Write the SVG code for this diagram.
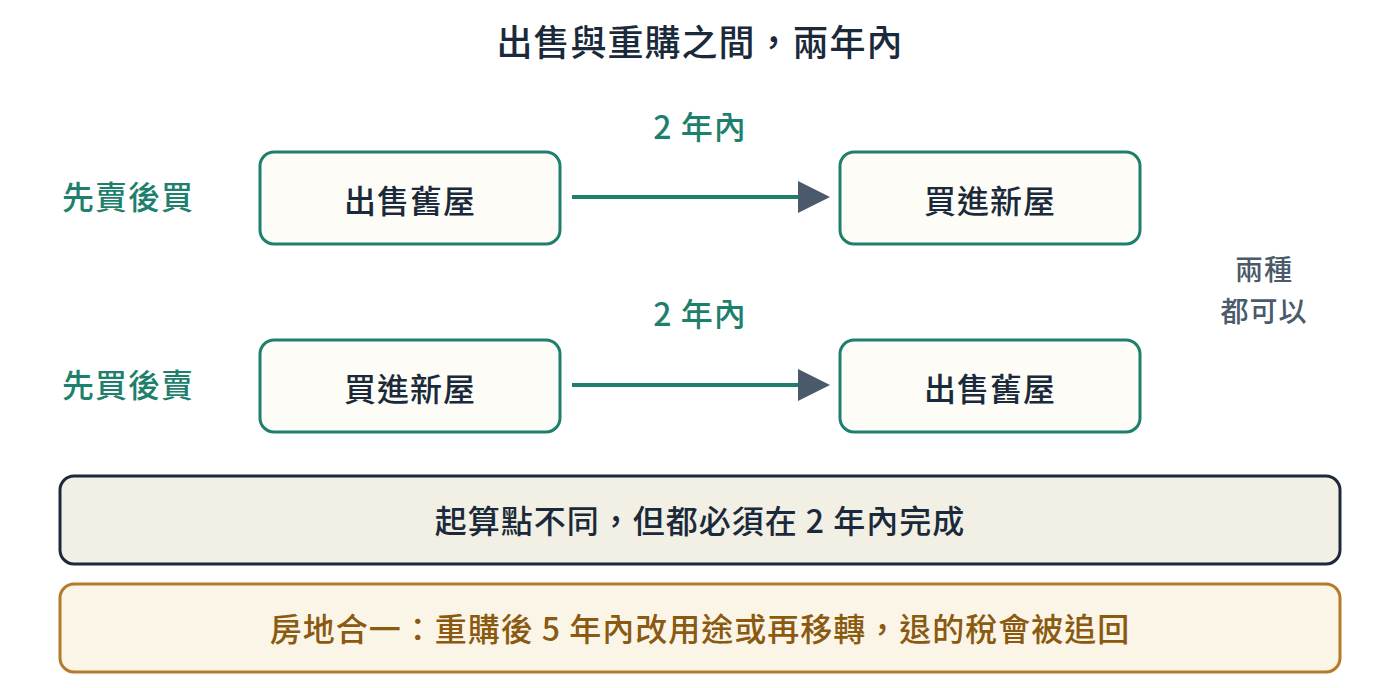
<svg xmlns="http://www.w3.org/2000/svg" width="1400" height="688" viewBox="0 0 1400 688">
<style>
text{font-family:"Noto Sans CJK TC","Noto Sans",sans-serif;font-weight:500;text-anchor:middle;dominant-baseline:central;letter-spacing:1px}
.box{fill:#fdfcf6;stroke:#1e7f6c;stroke-width:3}
.bt{font-size:32px;fill:#1b2a3a}
.teal{fill:#1e7f6c;font-size:32px}
.conn{stroke:#1e7f6c;stroke-width:4}
</style>
<rect width="1400" height="688" fill="#fff"/>
<text x="700" y="40" font-size="36" fill="#1b2a3a" font-weight="600">出售與重購之間，兩年內</text>
<g id="labels">
<text class="teal" x="128" y="195">先賣後買</text>
<text class="teal" x="128" y="383">先買後賣</text>
<text class="teal" x="700" y="125">2 年內</text>
<text class="teal" x="700" y="312">2 年內</text>
<text x="1264" y="268" font-size="28" fill="#4a5a6a">兩種</text>
<text x="1264" y="310" font-size="28" fill="#4a5a6a">都可以</text>
</g>
<g id="n1"><rect class="box" x="260" y="152" width="300" height="92" rx="14"/><text class="bt" x="410" y="199">出售舊屋</text></g>
<g id="n2"><rect class="box" x="840" y="152" width="300" height="92" rx="14"/><text class="bt" x="990" y="199">買進新屋</text></g>
<g id="n3"><rect class="box" x="260" y="340" width="300" height="92" rx="14"/><text class="bt" x="410" y="387">買進新屋</text></g>
<g id="n4"><rect class="box" x="840" y="340" width="300" height="92" rx="14"/><text class="bt" x="990" y="387">出售舊屋</text></g>
<g id="connectors">
<line class="conn" x1="572" y1="197" x2="800" y2="197"/><path d="M798,181L830,197L798,213z" fill="#4a5a6a"/>
<line class="conn" x1="572" y1="385" x2="800" y2="385"/><path d="M798,369L830,385L798,401z" fill="#4a5a6a"/>
</g>
<g id="n5"><rect x="60" y="476" width="1280" height="88" rx="14" fill="#f2efe4" stroke="#1b2a3a" stroke-width="3"/><text class="bt" x="700" y="519">起算點不同，但都必須在 2 年內完成</text></g>
<g id="n6"><rect x="60" y="584" width="1280" height="88" rx="14" fill="#fbf5e8" stroke="#b57a2a" stroke-width="3"/><text x="700" y="627" font-size="32" fill="#8a5a10">房地合一：重購後 5 年內改用途或再移轉，退的稅會被追回</text></g>
</svg>
